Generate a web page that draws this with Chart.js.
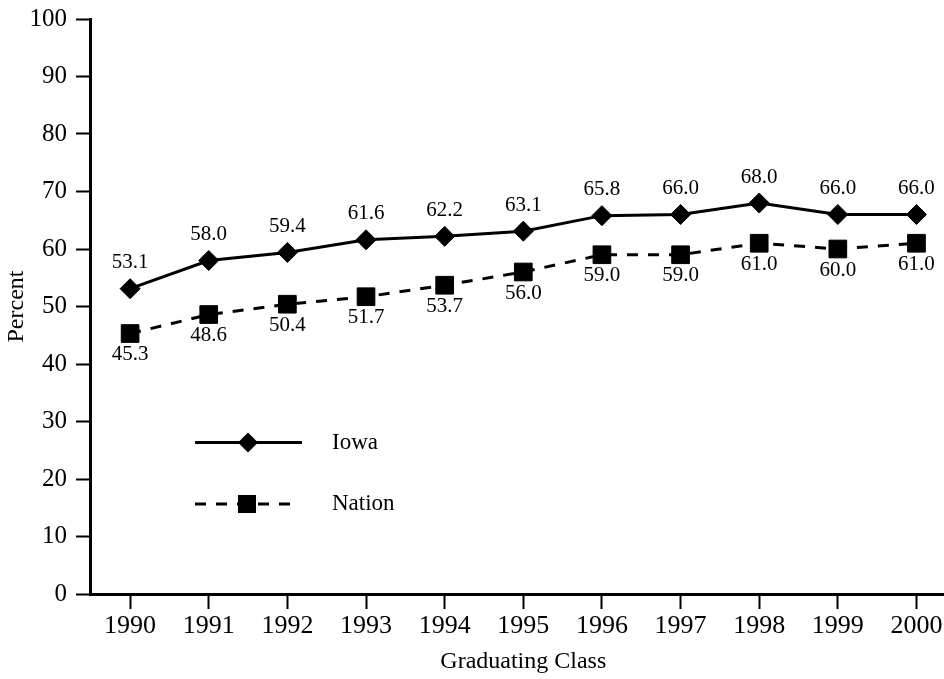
<!DOCTYPE html>
<html><head><meta charset="utf-8">
<script src="https://cdn.jsdelivr.net/npm/chart.js@4"></script>
<style>html,body{margin:0;padding:0;background:#fff}</style>
</head><body>
<canvas id="c" width="944" height="679"></canvas>
<script>
const years = [1990, 1991, 1992, 1993, 1994, 1995, 1996, 1997, 1998, 1999, 2000];
const iowa = [53.1, 58.0, 59.4, 61.6, 62.2, 63.1, 65.8, 66.0, 68.0, 66.0, 66.0];
const nation = [45.3, 48.6, 50.4, 51.7, 53.7, 56.0, 59.0, 59.0, 61.0, 60.0, 61.0];
const seriesNames = ['Iowa', 'Nation'];
const yTitle = 'Percent';
const xTitle = 'Graduating Class';

const SERIF = '"Liberation Serif", "Times New Roman", serif';

const valueLabels = {
  id: 'valueLabels',
  afterDatasetsDraw(chart) {
    const ctx = chart.ctx;
    ctx.save();
    ctx.font = '21px ' + SERIF;
    ctx.fillStyle = '#000';
    ctx.textAlign = 'center';
    ctx.textBaseline = 'middle';
    chart.data.datasets.forEach((ds, di) => {
      const meta = chart.getDatasetMeta(di);
      const off = di === 0 ? -26 : 21;
      meta.data.forEach((pt, i) => {
        ctx.fillText(ds.data[i].y.toFixed(1), pt.x, pt.y + off);
      });
    });
    ctx.restore();
  }
};

const customLegend = {
  id: 'customLegend',
  afterDraw(chart) {
    const ctx = chart.ctx;
    const a = chart.chartArea;
    const x0 = a.left + 105;
    ctx.save();
    ctx.strokeStyle = '#000';
    ctx.fillStyle = '#000';
    // Iowa
    let y = a.top + 423.5;
    ctx.lineWidth = 3;
    ctx.setLineDash([]);
    ctx.beginPath(); ctx.moveTo(x0, y); ctx.lineTo(x0 + 107, y); ctx.stroke();
    let cx = x0 + 53, r = 10;
    ctx.beginPath();
    ctx.moveTo(cx - r, y); ctx.lineTo(cx, y - r); ctx.lineTo(cx + r, y); ctx.lineTo(cx, y + r);
    ctx.closePath(); ctx.fill();
    // Nation
    y = a.top + 485;
    ctx.setLineDash([11, 10]);
    ctx.beginPath(); ctx.moveTo(x0, y); ctx.lineTo(x0 + 96, y); ctx.stroke();
    ctx.setLineDash([]);
    cx = x0 + 52; const s = 9;
    ctx.fillRect(cx - s, y - s, 2 * s, 2 * s);
    ctx.font = '23px ' + SERIF;
    ctx.textAlign = 'left';
    ctx.textBaseline = 'middle';
    ctx.fillText(seriesNames[0], x0 + 137, a.top + 424);
    ctx.fillText(seriesNames[1], x0 + 137, a.top + 485);
    // x axis title, centred on the year range
    const xs = chart.scales.x;
    ctx.font = '24px ' + SERIF;
    ctx.textAlign = 'center';
    ctx.fillText(xTitle, xs.getPixelForValue((years[0] + years[years.length - 1]) / 2), 662);
    ctx.restore();
  }
};

new Chart(document.getElementById('c'), {
  type: 'line',
  data: {
    datasets: [
      {
        label: seriesNames[0],
        data: years.map((yr, i) => ({ x: yr, y: iowa[i] })),
        borderColor: '#000', backgroundColor: '#000',
        borderWidth: 3,
        pointStyle: 'rectRot', pointRadius: 10, pointBorderWidth: 1,
        pointBackgroundColor: '#000', pointBorderColor: '#000',
        tension: 0, clip: false
      },
      {
        label: seriesNames[1],
        data: years.map((yr, i) => ({ x: yr, y: nation[i] })),
        borderColor: '#000', backgroundColor: '#000',
        borderWidth: 3, borderDash: [11, 10],
        pointStyle: 'rect', pointRadius: 12.5, pointBorderWidth: 1,
        pointBackgroundColor: '#000', pointBorderColor: '#000',
        tension: 0, clip: false
      }
    ]
  },
  options: {
    responsive: false,
    animation: false,
    events: [],
    layout: { autoPadding: false, padding: { top: 19, right: 0, left: 0, bottom: 0 } },
    plugins: { legend: { display: false }, tooltip: { enabled: false } },
    scales: {
      x: {
        type: 'linear',
        min: 1989.49, max: 2000.35,
        afterBuildTicks: s => { s.ticks = years.map(v => ({ value: v })); },
        afterFit: s => { s.height = 85; s.paddingLeft = 0; s.paddingRight = 0; },
        border: { display: true, color: '#000', width: 3 },
        grid: { display: true, drawOnChartArea: false, drawTicks: true, tickLength: 15, tickWidth: 2, tickColor: '#000' },
        ticks: { color: '#000', font: { family: SERIF, size: 26 }, padding: 2, maxRotation: 0, autoSkip: false,
                 callback: v => String(v) }
      },
      y: {
        min: 0, max: 100,
        afterFit: s => { s.width = 90; s.paddingTop = 0; s.paddingBottom = 0; },
        border: { display: true, color: '#000', width: 3 },
        grid: { display: true, drawOnChartArea: false, drawTicks: true, tickLength: 14, tickWidth: 2, tickColor: '#000' },
        ticks: { color: '#000', font: { family: SERIF, size: 25 }, padding: 9, stepSize: 10 },
        title: { display: true, text: yTitle, color: '#000', font: { family: SERIF, size: 24 }, padding: { top: 2, bottom: 0 } }
      }
    }
  },
  plugins: [valueLabels, customLegend]
});
</script>
</body></html>
